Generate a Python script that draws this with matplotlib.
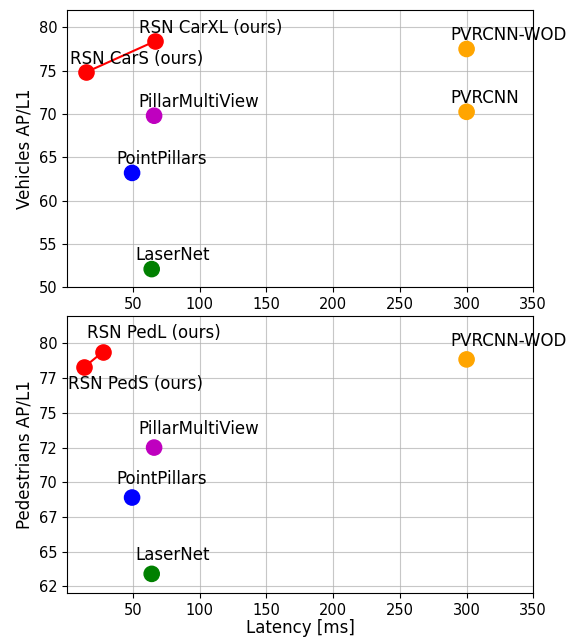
import matplotlib
matplotlib.use("Agg")
import matplotlib.pyplot as plt
from matplotlib.ticker import FormatStrFormatter, MultipleLocator

plt.rcParams["font.size"] = 10.5
plt.rcParams["axes.labelsize"] = 12

# ---------------------------------------------------------------
# Vehicles: latency (ms) vs AP/L1
# ---------------------------------------------------------------
veh_names = ["PointPillars", "LaserNet", "PillarMultiView", "PVRCNN", "PVRCNN-WOD"]
veh_latency = [49.3, 64.0, 65.8, 300, 300]
veh_ap = [63.2, 52.1, 69.8, 70.25, 77.5]
veh_colors = ["blue", "green", "m", "orange", "orange"]

rsn_car_names = ["RSN CarS (ours)", "RSN CarXL (ours)"]
rsn_car_latency = [14.5, 66.5]
rsn_car_ap = [74.8, 78.4]

# ---------------------------------------------------------------
# Pedestrians: latency (ms) vs AP/L1
# ---------------------------------------------------------------
ped_names = ["PointPillars", "LaserNet", "PillarMultiView", "PVRCNN-WOD"]
ped_latency = [49.3, 64.0, 65.8, 300]
ped_ap = [68.9, 63.4, 72.5, 78.85]
ped_colors = ["blue", "green", "m", "orange"]

rsn_ped_names = ["RSN PedS (ours)", "RSN PedL (ours)"]
rsn_ped_latency = [13.5, 27.5]
rsn_ped_ap = [78.3, 79.4]

LABEL_FS = 12

fig = plt.figure(figsize=(5.7, 6.39), dpi=100)
ax1 = fig.add_axes([67.3 / 570, 1 - 287.3 / 639, 466 / 570, 277.3 / 639])
ax2 = fig.add_axes([67.3 / 570, 1 - 593.3 / 639, 466 / 570, 277.6 / 639])

# top panel: vehicles
ax1.plot(rsn_car_latency, rsn_car_ap, color="red", linewidth=1.5, zorder=3)
ax1.scatter(rsn_car_latency, rsn_car_ap, color="red", s=120, zorder=4)
for name, x, y in zip(rsn_car_names, rsn_car_latency, rsn_car_ap):
    ax1.text(x - 12, y + 1, name, fontsize=LABEL_FS)
ax1.scatter(veh_latency, veh_ap, c=veh_colors, s=120, zorder=4)
for name, x, y in zip(veh_names, veh_latency, veh_ap):
    ax1.text(x - 12, y + 1, name, fontsize=LABEL_FS)

ax1.set_xlim(0.75, 350)
ax1.set_ylim(50, 82)
ax1.set_ylabel("Vehicles AP/L1")
ax1.grid(True, alpha=0.7)

# bottom panel: pedestrians
ax2.plot(rsn_ped_latency, rsn_ped_ap, color="red", linewidth=1.5, zorder=3)
ax2.scatter(rsn_ped_latency, rsn_ped_ap, color="red", s=120, zorder=4)
ax2.text(rsn_ped_latency[0] - 12, rsn_ped_ap[0] - 1.6, rsn_ped_names[0], fontsize=LABEL_FS)
ax2.text(rsn_ped_latency[1] - 12, rsn_ped_ap[1] + 1, rsn_ped_names[1], fontsize=LABEL_FS)
ax2.scatter(ped_latency, ped_ap, c=ped_colors, s=120, zorder=4)
for name, x, y in zip(ped_names, ped_latency, ped_ap):
    ax2.text(x - 12, y + 1, name, fontsize=LABEL_FS)

ax2.set_xlim(0.75, 350)
ax2.set_ylim(62, 82)
ax2.yaxis.set_major_locator(MultipleLocator(2.5))
ax2.yaxis.set_major_formatter(FormatStrFormatter("%d"))
ax2.set_ylabel("Pedestrians AP/L1")
ax2.set_xlabel("Latency [ms]", labelpad=1)
ax2.grid(True, alpha=0.7)

fig.savefig("out.png", dpi=100)
